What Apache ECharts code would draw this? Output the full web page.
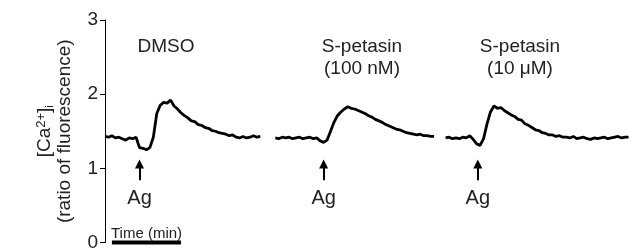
<!DOCTYPE html>
<html>
<head>
<meta charset="utf-8">
<script src="https://cdn.jsdelivr.net/npm/echarts@6/dist/echarts.min.js"></script>
<style>
  html, body { margin: 0; padding: 0; background: #fff; }
  #chart { width: 632px; height: 252px; }
</style>
</head>
<body>
<div id="chart"></div>
<script>
// time in seconds, one sample every 3 s
let step = 3
let traceStarts = [0, 148, 296]

// DMSO
let dmso = [1.43, 1.42, 1.44, 1.41, 1.42, 1.40, 1.38, 1.41, 1.40, 1.42,
  1.28, 1.27, 1.25, 1.28, 1.42, 1.74, 1.85, 1.89, 1.88, 1.92,
  1.84, 1.80, 1.75, 1.71, 1.68, 1.64, 1.63, 1.59, 1.58, 1.55,
  1.54, 1.51, 1.50, 1.48, 1.47, 1.46, 1.44, 1.45, 1.42, 1.41,
  1.43, 1.41, 1.42, 1.44, 1.42, 1.43]
// S-petasin 100 nM
let pet100 = [1.41, 1.40, 1.42, 1.41, 1.42, 1.40, 1.41, 1.42, 1.40, 1.41,
  1.42, 1.40, 1.41, 1.37, 1.35, 1.38, 1.50, 1.62, 1.71, 1.76,
  1.80, 1.83, 1.81, 1.80, 1.78, 1.76, 1.74, 1.71, 1.69, 1.66,
  1.64, 1.62, 1.59, 1.57, 1.55, 1.53, 1.52, 1.50, 1.48, 1.47,
  1.46, 1.45, 1.46, 1.44, 1.44, 1.43, 1.43]
// S-petasin 10 uM
let pet10 = [1.41, 1.42, 1.40, 1.41, 1.40, 1.42, 1.41, 1.44, 1.39, 1.33,
  1.31, 1.40, 1.60, 1.76, 1.84, 1.81, 1.82, 1.78, 1.75, 1.72,
  1.70, 1.66, 1.65, 1.60, 1.58, 1.55, 1.52, 1.51, 1.48, 1.47,
  1.45, 1.45, 1.43, 1.44, 1.42, 1.42, 1.41, 1.43, 1.40, 1.41,
  1.42, 1.40, 1.39, 1.41, 1.40, 1.41, 1.42, 1.40, 1.41, 1.42,
  1.43, 1.41, 1.42, 1.42]

let agTimes = [30, 190, 324]
let scaleBar = [6, 66] // 1 min
let yTicks = [0, 1, 2, 3]

let font = '"Liberation Sans", Arial, sans-serif'

function toPoints(values, start) {
  return values.map((v, i) => [start + i * step, v])
}

let traceStyle = {
  type: 'line',
  showSymbol: false,
  symbol: 'none',
  lineStyle: { color: '#000', width: 2.8 },
  silent: true
}

let myChart = echarts.init(document.getElementById('chart'))

myChart.setOption({
  animation: false,
  grid: { left: 105, right: 0, top: 20, bottom: 6 },
  xAxis: { type: 'value', min: 0, max: 458, show: false },
  yAxis: {
    type: 'value',
    min: yTicks[0],
    max: yTicks[yTicks.length - 1],
    interval: 1,
    splitLine: { show: false },
    axisLine: { show: true, lineStyle: { color: '#000', width: 1 } },
    axisTick: { show: true, inside: false, length: 5, lineStyle: { color: '#000' } },
    axisLabel: { color: '#222', fontSize: 19, fontFamily: font, margin: 7 },
    name: '{a|[Ca}{sup|2+}{a|]}{sub|i}\n{a|(ratio of fluorescence)}',
    nameLocation: 'middle',
    nameRotate: 90,
    nameGap: 30,
    nameTextStyle: {
      color: '#222',
      fontFamily: font,
      lineHeight: 20,
      rich: {
        a: { fontSize: 19, fontFamily: font, color: '#222', lineHeight: 20 },
        sup: { fontSize: 13, fontFamily: font, color: '#222', verticalAlign: 'top', lineHeight: 20, padding: [0, 0, 9, 0] },
        sub: { fontSize: 11, fontFamily: font, color: '#222', verticalAlign: 'bottom', lineHeight: 20 }
      }
    }
  },
  graphic: [
    { type: 'text', x: 166, y: 47, style: { text: 'DMSO', font: '19px ' + font, fill: '#222', align: 'center', verticalAlign: 'middle' } },
    { type: 'text', x: 362, y: 47, style: { text: 'S-petasin', font: '19px ' + font, fill: '#222', align: 'center', verticalAlign: 'middle' } },
    { type: 'text', x: 362, y: 69, style: { text: '(100 nM)', font: '19px ' + font, fill: '#222', align: 'center', verticalAlign: 'middle' } },
    { type: 'text', x: 520, y: 47, style: { text: 'S-petasin', font: '19px ' + font, fill: '#222', align: 'center', verticalAlign: 'middle' } },
    { type: 'text', x: 520, y: 69, style: { text: '(10 μM)', font: '19px ' + font, fill: '#222', align: 'center', verticalAlign: 'middle' } },
    { type: 'text', x: 111, y: 234, style: { text: 'Time (min)', font: '15px ' + font, fill: '#222', align: 'left', verticalAlign: 'middle' } }
  ],
  series: [
    Object.assign({}, traceStyle, { name: 'DMSO', data: toPoints(dmso, traceStarts[0]) }),
    Object.assign({}, traceStyle, { name: 'S-petasin 100 nM', data: toPoints(pet100, traceStarts[1]) }),
    Object.assign({}, traceStyle, { name: 'S-petasin 10 uM', data: toPoints(pet10, traceStarts[2]) }),
    {
      // scale bar
      type: 'line',
      symbol: 'none',
      clip: false,
      silent: true,
      lineStyle: { color: '#000', width: 4 },
      data: [[scaleBar[0], 0], [scaleBar[1], 0]]
    },
    {
      // Ag labels + arrows
      type: 'scatter',
      symbolSize: 1,
      silent: true,
      itemStyle: { color: 'rgba(0,0,0,0)', opacity: 1 },
      label: { show: true, position: 'inside', formatter: 'Ag', color: '#222', fontSize: 20, fontFamily: font },
      data: agTimes.map(t => [t, 0.6]),
      markLine: {
        silent: true,
        symbol: ['none', 'triangle'],
        symbolSize: 9,
        label: { show: false },
        lineStyle: { color: '#000', width: 2, type: 'solid', opacity: 1 },
        data: agTimes.map(t => [{ coord: [t, 0.84] }, { coord: [t, 1.06] }])
      }
    }
  ]
})
</script>
</body>
</html>
